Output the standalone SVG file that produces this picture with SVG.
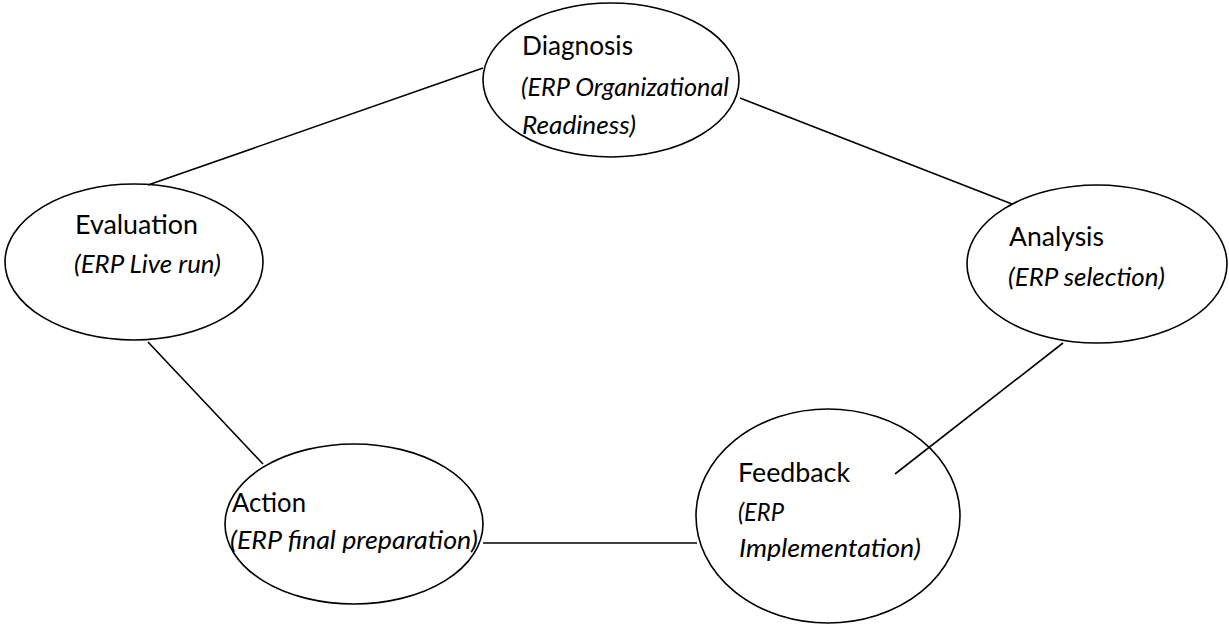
<svg xmlns="http://www.w3.org/2000/svg" width="1229" height="625" viewBox="0 0 1229 625">
  <style>
    .stage { fill: none; stroke: #000; stroke-width: 1.6; }
    .link { stroke: #000; stroke-width: 1.6; fill: none; }
    .title { font-family: Lato, "Liberation Sans", sans-serif; font-size: 26.5px; fill: #000; }
    .sub { font-family: Lato, "Liberation Sans", sans-serif; font-size: 25.5px; font-style: italic; fill: #000; }
  </style>
  <rect width="1229" height="625" fill="#fff"/>

  <!-- connectors between the stages -->
  <g id="connectors">
    <line class="link" x1="483" y1="68" x2="148" y2="185"/>
    <line class="link" x1="740" y1="98" x2="1012" y2="204"/>
    <line class="link" x1="1063" y1="343" x2="895" y2="474"/>
    <line class="link" x1="148" y1="342" x2="263" y2="464"/>
    <line class="link" x1="483" y1="543" x2="697" y2="543"/>
  </g>

  <g id="diagnosis">
    <ellipse class="stage" cx="611" cy="80" rx="128" ry="77"/>
    <text class="title" x="522" y="55" textLength="111" lengthAdjust="spacingAndGlyphs">Diagnosis</text>
    <text class="sub" x="521" y="96" textLength="208" lengthAdjust="spacingAndGlyphs">(ERP Organizational</text>
    <text class="sub" x="522" y="134" textLength="114" lengthAdjust="spacingAndGlyphs">Readiness)</text>
  </g>

  <g id="evaluation">
    <ellipse class="stage" cx="134" cy="262" rx="129" ry="78"/>
    <text class="title" x="75" y="234" textLength="123" lengthAdjust="spacingAndGlyphs">Evaluation</text>
    <text class="sub" x="74" y="273" textLength="147" lengthAdjust="spacingAndGlyphs">(ERP Live run)</text>
  </g>

  <g id="analysis">
    <ellipse class="stage" cx="1097" cy="264" rx="130" ry="79"/>
    <text class="title" x="1009" y="246" textLength="95" lengthAdjust="spacingAndGlyphs">Analysis</text>
    <text class="sub" x="1008" y="286" textLength="157" lengthAdjust="spacingAndGlyphs">(ERP selection)</text>
  </g>

  <g id="action">
    <ellipse class="stage" cx="354" cy="524" rx="129" ry="80"/>
    <text class="title" x="232" y="512" textLength="74" lengthAdjust="spacingAndGlyphs">Action</text>
    <text class="sub" x="230" y="549" textLength="248" lengthAdjust="spacingAndGlyphs">(ERP final preparation)</text>
  </g>

  <g id="feedback">
    <ellipse class="stage" cx="828" cy="516" rx="132" ry="107"/>
    <text class="title" x="738" y="482" textLength="112" lengthAdjust="spacingAndGlyphs">Feedback</text>
    <text class="sub" x="738" y="521" textLength="46" lengthAdjust="spacingAndGlyphs">(ERP</text>
    <text class="sub" x="739" y="557" textLength="182" lengthAdjust="spacingAndGlyphs">Implementation)</text>
  </g>
</svg>
